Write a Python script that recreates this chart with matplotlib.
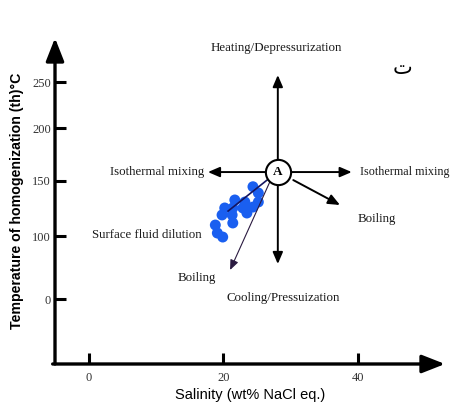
import matplotlib
matplotlib.use("Agg")
import matplotlib.pyplot as plt

# Data
salinity = [24.4, 25.2, 25.2, 24.4, 23.2, 22.9, 21.7, 21.4, 21.3, 21.4,
            20.2, 19.8, 18.8, 19.1, 19.9, 23.5]
temperature = [148.0, 141.9, 133.1, 128.2, 133.1, 127.3, 135.1, 127.3, 120.5, 112.7,
               127.3, 120.5, 110.7, 102.9, 99.0, 122.4]
point_A = (28.1, 162.3)
xtick_vals = [0, 20, 40]
xtick_labels = ["0", "20", "40"]
ytick_pos = [38.6, 100, 153.6, 205.2, 250]
ytick_labels = ["0", "100", "150", "200", "250"]

serif = "Liberation Serif"
sans = "Liberation Sans"

fig = plt.figure(figsize=(4.51, 4.04), dpi=100)
ax = fig.add_axes([55/451, 40/404, 390/451, 326/404])
ax.set_xlim(-5.06, 52.98)
ax.set_ylim(-24.7, 292.9)
for s in ax.spines.values():
    s.set_visible(False)

# axis arrows
ax.annotate("", xy=(0, 1.0), xytext=(0, 0), xycoords="axes fraction",
            arrowprops=dict(arrowstyle="-|>,head_length=1.4,head_width=0.55", lw=2.4,
                            color="black", shrinkA=0, shrinkB=0), annotation_clip=False)
ax.annotate("", xy=(1.0, 0), xytext=(-0.006, 0), xycoords="axes fraction",
            arrowprops=dict(arrowstyle="-|>,head_length=1.4,head_width=0.55", lw=2.4,
                            color="black", shrinkA=0, shrinkB=0), annotation_clip=False)

ax.set_xticks(xtick_vals)
ax.set_xticklabels(xtick_labels, fontfamily=serif, fontsize=9, color="#333333")
ax.set_yticks(ytick_pos)
ax.set_yticklabels(ytick_labels, fontfamily=serif, fontsize=9, color="#333333")
ax.tick_params(direction="in", length=8, width=2.2)
ax.tick_params(axis="y", pad=3)
ax.tick_params(axis="x", pad=6)
ax.set_xlabel("Salinity (wt% NaCl eq.)", fontfamily=sans, fontsize=10.5, labelpad=3)
ax.set_ylabel("Temperature of homogenization (th)°C", fontfamily=sans, fontsize=10.2,
              fontweight="bold", labelpad=6)

# data points
ax.scatter(salinity, temperature, s=62, color="#1a5ff0", zorder=3, edgecolors="none")

ax_, ay_ = point_A
arr = dict(arrowstyle="-|>,head_length=0.7,head_width=0.3", lw=1.4, color="black",
           shrinkA=0, shrinkB=0)
def arrow(x0, y0, x1, y1, props=arr):
    ax.annotate("", xy=(x1, y1), xytext=(x0, y0), arrowprops=props, zorder=4)

arrow(ax_, 173.0, ax_, 256.8)
arrow(26.6, ay_, 17.7, ay_)
arrow(29.6, ay_, 39.1, ay_)
arrow(ax_, 151.6, ax_, 72.7)
arrow(30.4, 154.5, 37.35, 130.2)
thin = dict(arrowstyle="-|>,head_length=0.6,head_width=0.25", lw=0.8, color="#2a1a40",
            shrinkA=0, shrinkB=0)
arrow(26.9, 152.6, 21.0, 66.9, thin)
ax.plot([26.5, 20.7], [154.5, 124.3], color="#151560", lw=1.2, zorder=4)

ax.scatter([ax_], [ay_], s=330, facecolor="white", edgecolor="black", linewidths=1.5, zorder=5)
ax.text(ax_, ay_, "A", fontfamily=serif, fontsize=9.5, fontweight="bold",
        ha="center", va="center", zorder=6)

tk = dict(fontfamily=serif, fontsize=9.3, color="#1a1a1a")
ax.text(27.8, 283.1, "Heating/Depressurization", ha="center", va="center", **tk)
ax.text(17.1, ay_, "Isothermal mixing", ha="right", va="center", **tk)
ax.text(40.3, ay_, "Isothermal mixing", ha="left", va="center", clip_on=False,
        fontfamily=serif, fontsize=8.7, color="#1a1a1a")
ax.text(39.9, 116.6, "Boiling", ha="left", va="center", **tk)
ax.text(16.8, 101.0, "Surface fluid dilution", ha="right", va="center", **tk)
ax.text(16.1, 59.1, "Boiling", ha="center", va="center", **tk)
ax.text(28.9, 39.6, "Cooling/Pressuization", ha="center", va="center", **tk)
ax.text(46.6, 263.6, "ت", fontfamily="DejaVu Sans", fontsize=15,
        ha="center", va="center")

fig.savefig("out.png", dpi=100)
